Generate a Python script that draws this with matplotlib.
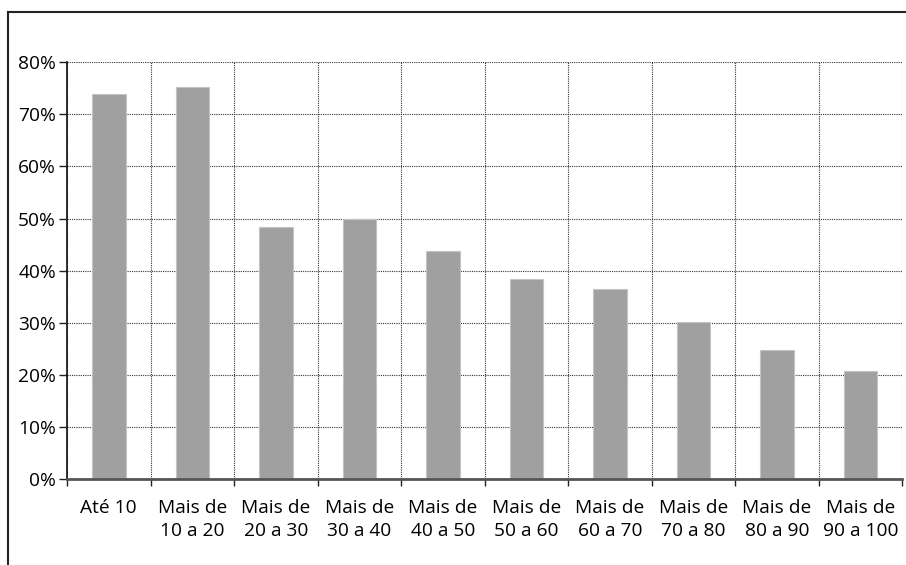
import matplotlib.pyplot as plt
import numpy as np
from matplotlib.lines import Line2D

categories = ['Até 10', 'Mais de\n10 a 20', 'Mais de\n20 a 30', 'Mais de\n30 a 40',
              'Mais de\n40 a 50', 'Mais de\n50 a 60', 'Mais de\n60 a 70', 'Mais de\n70 a 80',
              'Mais de\n80 a 90', 'Mais de\n90 a 100']
values = [73.8, 75.3, 48.4, 49.9, 43.7, 38.4, 36.4, 30.2, 24.7, 20.7]
yticks = [0, 10, 20, 30, 40, 50, 60, 70, 80]

plt.rcParams['font.family'] = ['Open Sans', 'DejaVu Sans']

fig = plt.figure(figsize=(9.06, 5.65), dpi=100)
ax = fig.add_axes([0.074, 0.152, 0.922, 0.738])

x = np.arange(len(categories))
ax.bar(x, values, width=0.4, color='#a0a0a0', edgecolor='#c4c4c4', linewidth=0.8, zorder=3)

ax.set_xlim(-0.5, len(categories) - 0.5)
ax.set_ylim(0, 80)
ax.set_yticks(yticks)
ax.set_yticklabels([f'{v}%' for v in yticks], fontsize=13.8)

# ticks between categories, labels centred on the bars
ax.set_xticks(np.arange(len(categories) + 1) - 0.5)
ax.set_xticklabels([])
ax.set_xticks(x, minor=True)
ax.set_xticklabels(categories, minor=True, fontsize=13.8, linespacing=1.4)
ax.tick_params(axis='x', which='minor', length=0, pad=14)
ax.tick_params(axis='x', which='major', length=5, width=1, color='#222222', direction='out')
ax.tick_params(axis='y', length=6, width=1, color='#222222', pad=2)

ax.grid(True, which='major', linestyle=(0, (1, 1)), color='#333333', linewidth=0.8, zorder=0)

for s in ['top', 'right']:
    ax.spines[s].set_visible(False)
ax.spines['left'].set_color('#111111')
ax.spines['left'].set_linewidth(1.2)
ax.spines['bottom'].set_color('#555555')
ax.spines['bottom'].set_linewidth(2)
ax.spines['bottom'].set_zorder(4)

# outer frame (top and left)
fig.add_artist(Line2D([8 / 906, 1], [1 - 12 / 565, 1 - 12 / 565], color='#222222', linewidth=1.5,
                      transform=fig.transFigure))
fig.add_artist(Line2D([8 / 906, 8 / 906], [0, 1 - 12 / 565], color='#222222', linewidth=1.5,
                      transform=fig.transFigure))

fig.savefig('out.png', dpi=100)
